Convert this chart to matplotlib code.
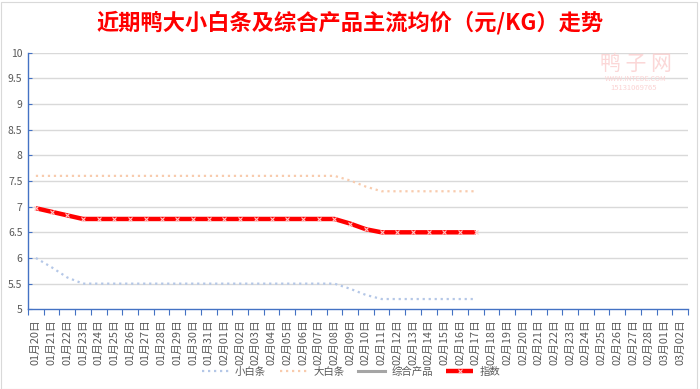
import matplotlib
matplotlib.use("Agg")
import matplotlib.pyplot as plt
from matplotlib.patches import Rectangle
import numpy as np

plt.rcParams['font.family'] = ['Noto Sans CJK SC', 'DejaVu Sans']

dates = ["01月20日", "01月21日", "01月22日", "01月23日", "01月24日", "01月25日", "01月26日",
         "01月27日", "01月28日", "01月29日", "01月30日", "01月31日", "02月01日", "02月02日",
         "02月03日", "02月04日", "02月05日", "02月06日", "02月07日", "02月08日", "02月09日",
         "02月10日", "02月11日", "02月12日", "02月13日", "02月14日", "02月15日", "02月16日",
         "02月17日", "02月18日", "02月19日", "02月20日", "02月21日", "02月22日", "02月23日",
         "02月24日", "02月25日", "02月26日", "02月27日", "02月28日", "03月01日", "03月02日"]

small_white = [6.0, 5.82, 5.62, 5.5, 5.5, 5.5, 5.5, 5.5, 5.5, 5.5, 5.5, 5.5, 5.5, 5.5,
               5.5, 5.5, 5.5, 5.5, 5.5, 5.5, 5.4, 5.28, 5.2, 5.2, 5.2, 5.2, 5.2, 5.2, 5.2]
large_white = [7.6, 7.6, 7.6, 7.6, 7.6, 7.6, 7.6, 7.6, 7.6, 7.6, 7.6, 7.6, 7.6, 7.6,
               7.6, 7.6, 7.6, 7.6, 7.6, 7.6, 7.51, 7.39, 7.3, 7.3, 7.3, 7.3, 7.3, 7.3, 7.3]
composite = []
index_vals = [6.97, 6.9, 6.83, 6.76, 6.76, 6.76, 6.76, 6.76, 6.76, 6.76, 6.76, 6.76, 6.76, 6.76,
              6.76, 6.76, 6.76, 6.76, 6.76, 6.76, 6.67, 6.56, 6.5, 6.5, 6.5, 6.5, 6.5, 6.5, 6.5]

series_names = ["小白条", "大白条", "综合产品", "指数"]
yticks = [5, 5.5, 6, 6.5, 7, 7.5, 8, 8.5, 9, 9.5, 10]
ytick_labels = ["5", "5.5", "6", "6.5", "7", "7.5", "8", "8.5", "9", "9.5", "10"]

W, H = 700, 389
fig = plt.figure(figsize=(W / 100, H / 100), dpi=100)
fig.patch.set_facecolor("white")
fig.patches.append(Rectangle((0.5 / W, 0.5 / H), 1 - 3.5 / W, 1 - 2.5 / H, transform=fig.transFigure,
                             fill=False, edgecolor="#D9D9D9", linewidth=0.8))

ax = fig.add_axes([28 / W, 1 - 309.3 / H, (688 - 28) / W, (309.3 - 52.7) / H])

axis_blue = "#4472C4"
grid_col = "#D9D9D9"
txt_col = "#595959"

x = np.arange(len(dates))
ax.set_xlim(-0.5, len(dates) - 0.5)
ax.set_ylim(5, 10)

for yv in yticks[1:]:
    ax.axhline(yv, color=grid_col, linewidth=1.0, zorder=0)

dot = (0, (1, 1.7))
ax.plot(x[:len(small_white)], small_white, color="#B4C7E7", linewidth=1.6, linestyle=dot,
        label=series_names[0], zorder=2)
ax.plot(x[:len(large_white)], large_white, color="#F8CBAD", linewidth=1.6, linestyle=dot,
        label=series_names[1], zorder=2)
ax.plot(x[:len(composite)], composite, color="#A5A5A5", linewidth=2.2, label=series_names[2])
ax.plot(x[:len(index_vals)], index_vals, color="#FF0000", linewidth=3.2, marker="x",
        markersize=3, markeredgecolor="#FFC8C8", markeredgewidth=0.8,
        label=series_names[3], zorder=3, solid_capstyle="butt")

ax.set_yticks(yticks)
ax.set_yticklabels(ytick_labels)
ax.tick_params(axis="y", direction="in", length=3, color=axis_blue, labelsize=7.5,
               labelcolor=txt_col, pad=4)

ax.set_xticks(x)
ax.set_xticklabels(dates, rotation=90, fontsize=7.8, color=txt_col)
ax.tick_params(axis="x", which="major", length=0, pad=7)
ax.set_xticks(np.arange(-0.5, len(dates), 1), minor=True)
ax.tick_params(axis="x", which="minor", direction="out", length=4, color=axis_blue, width=0.8)

for s in ["top", "right"]:
    ax.spines[s].set_visible(False)
for s in ["left", "bottom"]:
    ax.spines[s].set_color(axis_blue)
    ax.spines[s].set_linewidth(1.0)

leg = fig.legend(loc="center", bbox_to_anchor=(351 / W, 1 - 372 / H), ncol=4, frameon=False,
                 fontsize=7.5, handlelength=2.6, handletextpad=0.6, columnspacing=1.3,
                 labelcolor=txt_col)

fig.text(0.5, 1 - 23 / H, "近期鸭大小白条及综合产品主流均价（元/KG）走势", ha="center", va="center",
         color="#FF0000", fontsize=16, fontweight="bold")

# watermark
fig.text(636 / W, 1 - 64 / H, "鸭 子 网", ha="center", va="center", color="#FBD3D3",
         fontsize=15, alpha=0.9)
fig.text(636 / W, 1 - 79 / H, "WWW.INTEDE.COM", ha="center", va="center", color="#FBD3D3",
         fontsize=5)
fig.text(634 / W, 1 - 88 / H, "15131069765", ha="center", va="center", color="#FBD3D3",
         fontsize=5.5)

fig.savefig("out.png", dpi=100)
